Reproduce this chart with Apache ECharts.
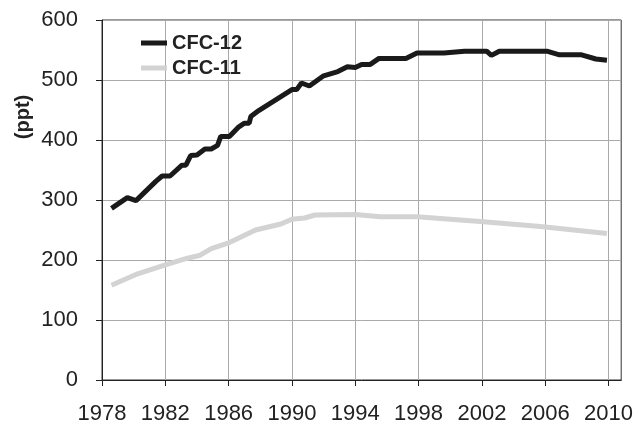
<!DOCTYPE html>
<html>
<head>
<meta charset="utf-8">
<script src="https://cdn.jsdelivr.net/npm/echarts@6/dist/echarts.min.js"></script>
<style>
  html, body { margin: 0; padding: 0; background: #fff; }
  #main { width: 636px; height: 425px; }
</style>
</head>
<body>
<div id="main"></div>
<script>
// 数据
let cfc12Years = [1978.6, 1979.6, 1980.15, 1981.4, 1981.8, 1982.3, 1983.05, 1983.3, 1983.6, 1984.0, 1984.5, 1984.9, 1985.3, 1985.5, 1986.05, 1986.6, 1987.0, 1987.3, 1987.4, 1987.9, 1990.0, 1990.3, 1990.6, 1991.1, 1992.0, 1992.9, 1993.5, 1994.0, 1994.4, 1994.95, 1995.5, 1997.2, 1997.9, 1999.6, 2000.9, 2002.3, 2002.6, 2003.1, 2006.1, 2006.9, 2008.3, 2009.2, 2009.9]
let cfc12Values = [286, 304, 299, 331, 340, 340, 358, 358, 374, 375, 385, 385, 391, 406, 406, 421, 428, 428, 439, 449, 484, 484, 495, 490, 507, 514, 522, 521, 526, 526, 536, 536, 545, 545, 548, 548, 541, 548, 548, 542, 542, 535, 533]

let cfc11Years = [1978.6, 1980.25, 1982.0, 1983.4, 1984.2, 1984.9, 1986.05, 1987.7, 1989.3, 1990.0, 1990.8, 1991.45, 1994.0, 1995.6, 1997.9, 2001.9, 2005.7, 2009.9]
let cfc11Values = [158, 177, 192, 203, 208, 219, 229, 250, 260, 268, 270, 275, 276, 272, 272, 264, 256, 244]

let yearTicks = [1978, 1982, 1986, 1990, 1994, 1998, 2002, 2006, 2010]

function pairs(xs, ys) {
  return xs.map((x, i) => [x, ys[i]])
}

let narrow = 'Liberation Sans Narrow, Arial Narrow, Liberation Sans, sans-serif'
let bold = 'Liberation Sans, Arial, sans-serif'

let myChart = echarts.init(document.getElementById('main'))

let option = {
  backgroundColor: '#fff',
  animation: false,
  grid: {
    left: 102, right: 7, top: 20, bottom: 42,
    show: true, borderColor: '#333', borderWidth: 1
  },
  legend: {
    orient: 'vertical',
    left: 141,
    top: 33,
    padding: 0,
    itemGap: 5,
    itemWidth: 26,
    itemHeight: 5,
    icon: 'rect',
    textStyle: { fontSize: 20, fontWeight: 'bold', color: '#222', fontFamily: bold },
    data: ['CFC-12', 'CFC-11']
  },
  graphic: [
    {
      type: 'text',
      x: 23,
      y: 117,
      rotation: Math.PI / 2,
      style: {
        text: '(ppt)',
        fontSize: 20,
        fontWeight: 'bold',
        fontFamily: bold,
        fill: '#222',
        textAlign: 'center',
        textVerticalAlign: 'middle'
      }
    }
  ],
  xAxis: {
    type: 'value',
    min: 1978,
    max: 2010.8,
    axisLine: { lineStyle: { color: '#222', width: 1 } },
    axisTick: { show: true, inside: false, length: 6, customValues: yearTicks, lineStyle: { color: '#222' } },
    axisLabel: {
      customValues: yearTicks,
      formatter: v => String(v),
      fontSize: 22, fontFamily: narrow, color: '#222', margin: 23
    },
    splitLine: { show: true, lineStyle: { color: '#aaa', width: 1 } }
  },
  yAxis: {
    type: 'value',
    min: 0,
    max: 600,
    interval: 100,
    axisLine: { show: true, lineStyle: { color: '#222', width: 1 } },
    axisTick: { show: true, length: 6, lineStyle: { color: '#222' } },
    axisLabel: { fontSize: 22, fontFamily: narrow, color: '#222', margin: 24 },
    splitLine: { show: true, lineStyle: { color: '#aaa', width: 1 } }
  },
  series: [
    {
      name: 'CFC-12',
      type: 'line',
      symbol: 'none',
      data: pairs(cfc12Years, cfc12Values),
      lineStyle: { color: '#1a1a1a', width: 5 },
      itemStyle: { color: '#1a1a1a' }
    },
    {
      name: 'CFC-11',
      type: 'line',
      symbol: 'none',
      data: pairs(cfc11Years, cfc11Values),
      lineStyle: { color: '#d3d3d3', width: 5 },
      itemStyle: { color: '#d3d3d3' }
    }
  ]
}

myChart.setOption(option)
</script>
</body>
</html>
